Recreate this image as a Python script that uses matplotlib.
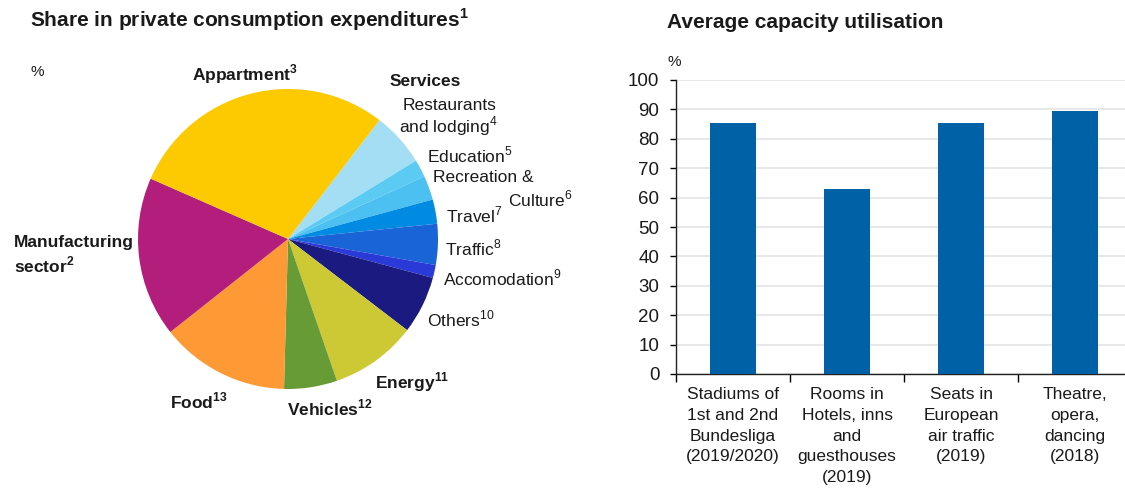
import matplotlib
matplotlib.use("Agg")
import matplotlib.pyplot as plt

W, H = 1125, 491

# Share in private consumption expenditures, % (clockwise from the services block)
pie_labels = ["Restaurants and lodging", "Education", "Recreation & Culture", "Travel",
              "Traffic", "Accomodation", "Others", "Energy", "Vehicles", "Food",
              "Manufacturing sector", "Appartment"]
pie_shares = [5.8, 1.9, 2.6, 2.6, 4.4, 1.4, 6.2, 9.3, 5.7, 13.9, 17.2, 28.8]
pie_colors = ["#a3def5", "#5ccbf3", "#4cc0f0", "#008be3", "#1964d6", "#2a3ad6",
              "#1a1a80", "#cdc934", "#679b36", "#fd9a36", "#b31e7d", "#fdc900"]

# Average capacity utilisation, %
bar_labels = ["Stadiums of\n1st and 2nd\nBundesliga\n(2019/2020)",
              "Rooms in\nHotels, inns\nand\nguesthouses\n(2019)",
              "Seats in\nEuropean\nair traffic\n(2019)",
              "Theatre,\nopera,\ndancing\n(2018)"]
bar_values = [85.3, 62.8, 85.5, 89.6]

plt.rcParams['font.family'] = ['Liberation Sans', 'DejaVu Sans']
plt.rcParams['mathtext.fontset'] = 'custom'
plt.rcParams['mathtext.rm'] = 'Liberation Sans'
plt.rcParams['mathtext.bf'] = 'Liberation Sans:bold'
TXT = '#1a1a1a'

fig = plt.figure(figsize=(W / 100, H / 100), dpi=100)


def px(x, y):
    return x / W, 1 - y / H


def label(x, y, s, bold=False, size=12.5, **kw):
    fig.text(*px(x, y), s, fontsize=size, color=TXT, va='center',
             fontweight='bold' if bold else 'normal', **kw)


def sup(n, bold=False):
    return r"$^{\mathbf{%s}}$" % n if bold else r"$^{\mathrm{%s}}$" % n


# ---- pie ----
cx, cy, r = 288, 239, 150
ax1 = fig.add_axes([(cx - r) / W, (H - cy - r) / H, 2 * r / W, 2 * r / H])
ax1.pie(pie_shares, colors=pie_colors, startangle=52.4, counterclock=False,
        radius=1.0, wedgeprops=dict(linewidth=0))
ax1.set_xlim(-1, 1)
ax1.set_ylim(-1, 1)
ax1.set_aspect('equal')
ax1.axis('off')

label(30, 20, "Share in private consumption expenditures" + sup(1, True), bold=True, size=15)
label(30, 72, "%", size=11)
label(245, 74, "Appartment" + sup(3, True), bold=True, ha='center')
label(390, 81, "Services", bold=True)
label(497, 105, "Restaurants", ha='right')
label(497, 126, "and lodging" + sup(4), ha='right')
label(427, 155, "Education" + sup(5))
label(433, 178, "Recreation &")
label(508, 199, "Culture" + sup(6))
label(446, 215, "Travel" + sup(7))
label(445, 248, "Traffic" + sup(8))
label(443, 278, "Accomodation" + sup(9))
label(427, 319, "Others" + sup(10))
label(375, 382, "Energy" + sup(11, True), bold=True)
label(287, 408, "Vehicles" + sup(12, True), bold=True)
label(170, 401, "Food" + sup(13, True), bold=True)
label(14, 243, "Manufacturing", bold=True)
label(14, 265, "sector" + sup(2, True), bold=True)

# ---- bars ----
left, right, top, bottom = 676, 1132, 80, 374
ax2 = fig.add_axes([left / W, (H - bottom) / H, (right - left) / W, (bottom - top) / H])
xs = range(len(bar_values))
ax2.bar(xs, bar_values, width=0.4, color='#0061a6', zorder=3)
ax2.set_xlim(-0.5, len(bar_values) - 0.5)
ax2.set_ylim(0, 100)
ax2.set_yticks(range(0, 101, 10))
ax2.yaxis.grid(True, color='#e8e8e8', linewidth=1.5, zorder=0)
ax2.set_axisbelow(True)
for s in ('top', 'right'):
    ax2.spines[s].set_visible(False)
for s in ('left', 'bottom'):
    ax2.spines[s].set_linewidth(1.0)
    ax2.spines[s].set_color('#222222')
ax2.tick_params(axis='y', length=4, width=1, labelsize=13.5, labelcolor=TXT, pad=8)
# category separators as ticks, labels in between
ax2.set_xticks([i - 0.5 for i in range(len(bar_values) + 1)])
ax2.set_xticklabels([])
ax2.tick_params(axis='x', length=6, width=1, direction='out')
for i, lab in enumerate(bar_labels):
    ax2.text(i, -4.5, lab, ha='center', va='top', fontsize=12.5, color=TXT,
             linespacing=1.47, transform=ax2.transData)

label(667, 22, "Average capacity utilisation", bold=True, size=15)
label(668, 62, "%", size=11)

fig.savefig("out.png", dpi=100)
